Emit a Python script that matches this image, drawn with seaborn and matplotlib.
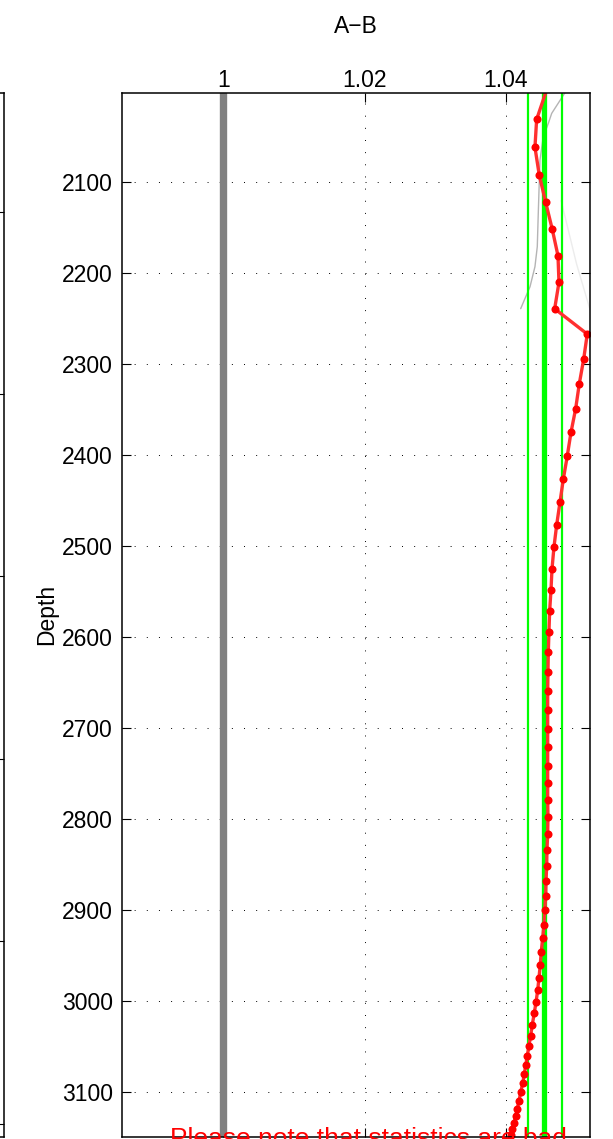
import numpy as np
import pandas as pd
import matplotlib
matplotlib.use("Agg")
import matplotlib.pyplot as plt
import seaborn as sns

# red profile (depth, A/B ratio)
depth = [2001.5, 2030.8, 2061.5, 2092.0, 2122.0, 2151.6, 2180.7, 2209.9, 2238.9, 2266.7,
         2294.5, 2321.6, 2348.8, 2374.7, 2400.8, 2426.4, 2451.6, 2476.6, 2500.8, 2525.0,
         2548.0, 2571.0, 2593.8, 2616.0, 2638.0, 2659.0, 2680.0, 2701.0, 2721.0, 2741.0,
         2760.4, 2778.8, 2797.0, 2816.0, 2833.7, 2851.3, 2867.8, 2884.3, 2900.0, 2915.8,
         2930.8, 2945.5, 2960.0, 2974.0, 2987.6, 3000.8, 3013.0, 3025.7, 3037.8, 3049.0,
         3060.0, 3070.3, 3080.2, 3090.0, 3100.0, 3109.2, 3118.0, 3126.0, 3133.4, 3140.7,
         3147.0]
ratio = [1.04562, 1.04434, 1.04410, 1.04471, 1.04562, 1.04655, 1.04736, 1.04750, 1.04689, 1.05150,
         1.05099, 1.05037, 1.04986, 1.04920, 1.04867, 1.04811, 1.04764, 1.04717, 1.04679, 1.04651,
         1.04637, 1.04618, 1.04608, 1.04599, 1.04594, 1.04590, 1.04590, 1.04590, 1.04590, 1.04590,
         1.04590, 1.04590, 1.04594, 1.04590, 1.04580, 1.04576, 1.04566, 1.04562, 1.04548, 1.04538,
         1.04519, 1.04499, 1.04485, 1.04467, 1.04449, 1.04425, 1.04400, 1.04372, 1.04349, 1.04325,
         1.04301, 1.04279, 1.04259, 1.04236, 1.04208, 1.04184, 1.04160, 1.04137, 1.04113, 1.04089,
         1.04071]

# thin grey reference curve near the top
ref_depth = [2001.5, 2024.2, 2035.2, 2050.0, 2075.5, 2134.0, 2170.7, 2192.7, 2214.7, 2238.8]
ref_ratio = [1.04835, 1.04647, 1.04599, 1.04528, 1.04481, 1.04457, 1.04443, 1.04410, 1.04340, 1.04208]

# very faint second curve
faint_depth = [2120.0, 2190.0, 2240.0]
faint_ratio = [1.0478, 1.0500, 1.0519]

band_lo, band_mid, band_hi = 1.0431, 1.0454, 1.0479
unity = 1.0

x_ticks = [1.0, 1.02, 1.04]
x_ticklabels = ["1", "1.02", "1.04"]
y_ticks = list(range(2100, 3101, 100))
left_ticks = [2133, 2333, 2533, 2734, 2934, 3135]
depth_range = (2001.5, 3149.0)
ratio_range = (0.98562, 1.05189)

note = "Please note that statistics are bad"

sns.set_style("white")
plt.rcParams["font.family"] = ["Liberation Sans", "DejaVu Sans"]
plt.rcParams["text.color"] = "black"
plt.rcParams["axes.labelcolor"] = "black"
plt.rcParams["xtick.color"] = "black"
plt.rcParams["ytick.color"] = "black"

W, H = 613, 1139
fig = plt.figure(figsize=(W / 100, H / 100), dpi=100)
ax = fig.add_axes([121.7 / W, 2 / H, (590 - 121.7) / W, (1137 - 92.7) / H])
ax_left = fig.add_axes([-0.4, 2 / H, 0.4 + 4 / W, (1137 - 92.7) / H])

df = pd.DataFrame({"depth": depth, "ratio": ratio})

ax.plot(faint_ratio, faint_depth, color="#ececec", lw=1.0)
ax.plot(ref_ratio, ref_depth, color="#b4b4b4", lw=1.0)
ax.axvline(unity, color="#808080", lw=5.3)
for xv, lw in [(band_lo, 1.6), (band_mid, 3.8), (band_hi, 1.6)]:
    ax.axvline(xv, color="#00ff00", lw=lw)

sns.lineplot(data=df, x="ratio", y="depth", orient="y", sort=False, estimator=None,
             ax=ax, color="#ff3030", lw=2.4, marker="o", markersize=5.8,
             markerfacecolor="red", markeredgecolor="red", markeredgewidth=0,
             markevery=list(range(1, len(depth))))

ax.set_xlim(*ratio_range)
ax.set_ylim(depth_range[1], depth_range[0])
ax.xaxis.tick_top()
ax.set_xticks(x_ticks)
ax.set_xticklabels(x_ticklabels)
ax.set_yticks(y_ticks)
ax.tick_params(axis="both", direction="in", top=True, bottom=True, left=True, right=True,
               labeltop=True, labelbottom=False, length=6.5, width=0.8,
               labelsize=16.5, color="black", labelcolor="black")
ax.tick_params(axis="x", pad=0.8)
ax.tick_params(axis="y", pad=6.5)
ax.grid(True, color="black", lw=0.7, linestyle=(0, (1, 11.5)))
for s in ax.spines.values():
    s.set_color("black")
    s.set_linewidth(1.1)
ax.set_xlabel("")
ax.set_ylabel("Depth", fontsize=16.5)
ax.yaxis.set_label_coords((58 - 121.7) / (590 - 121.7), 0.5)
ax.set_title("A\u2212B", fontsize=16.5, y=1 + 59.7 / 1044.3, pad=0)

ax_left.set_ylim(depth_range[1], depth_range[0])
ax_left.set_yticks(left_ticks)
ax_left.set_xticks([])
ax_left.tick_params(axis="y", direction="in", left=False, right=True,
                    labelleft=False, length=6.5, width=0.8, color="black")
for s in ax_left.spines.values():
    s.set_color("black")
    s.set_linewidth(1.1)

fig.text(368.5 / W, (H - 1145.6) / H, note, color="red", fontsize=19,
         ha="center", va="baseline")

fig.savefig("out.png", dpi=100)
